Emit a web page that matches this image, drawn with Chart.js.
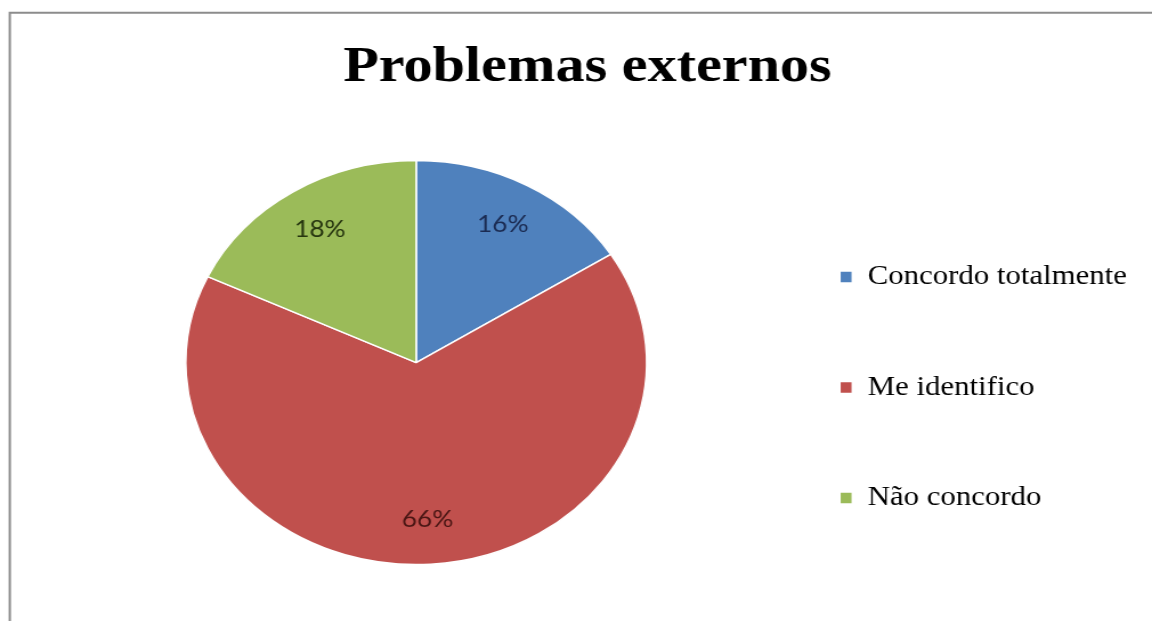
<!DOCTYPE html>
<html>
<head>
<meta charset="utf-8">
<script src="https://cdn.jsdelivr.net/npm/chart.js@4"></script>
<style>
    html, body { margin: 0; padding: 0; background: #fff; }
</style>
</head>
<body>
<!-- the original picture is stretched sideways, so the canvas is too -->
<canvas id="chart" width="1010" height="621" style="display:block;width:1152px;height:621px"></canvas>
<script>
const chartTitle = "Problemas externos";
const categories = ["Concordo totalmente", "Me identifico", "Não concordo"];
const percentages = [16, 66, 18];

const sliceColors = ["#4f81bd", "#c0504d", "#9bbb59"];
const labelColors = ["#1b2b52", "#4a1614", "#26350f"];

// white page with the grey frame on the left and top
const frame = {
    id: 'frame',
    beforeDraw(chart) {
        const ctx = chart.ctx;
        ctx.save();
        ctx.fillStyle = '#fff';
        ctx.fillRect(0, 0, chart.width, chart.height);
        ctx.strokeStyle = '#8c8c8c';
        ctx.lineWidth = 2;
        ctx.beginPath();
        ctx.moveTo(8.6, chart.height);
        ctx.lineTo(8.6, 12.8);
        ctx.lineTo(chart.width, 12.8);
        ctx.stroke();
        ctx.restore();
    }
};

// percentage labels inside the slices
const pctLabels = {
    id: 'pctLabels',
    afterDatasetsDraw(chart) {
        const ctx = chart.ctx;
        const meta = chart.getDatasetMeta(0);
        meta.data.forEach((arc, i) => {
            const p = arc.getProps(['x', 'y', 'startAngle', 'endAngle', 'outerRadius'], true);
            const mid = (p.startAngle + p.endAngle) / 2;
            const r = p.outerRadius * 0.78;
            ctx.save();
            ctx.fillStyle = labelColors[i];
            ctx.font = '23px Lato, "Open Sans", sans-serif';
            ctx.textAlign = 'center';
            ctx.textBaseline = 'middle';
            ctx.fillText(percentages[i] + '%', p.x + Math.cos(mid) * r, p.y + Math.sin(mid) * r);
            ctx.restore();
        });
    }
};

const ctx = document.getElementById('chart');

new Chart(ctx, {
    type: 'pie',
    data: {
        labels: categories,
        datasets: [{
            data: percentages,
            backgroundColor: sliceColors,
            borderColor: '#ffffff',
            borderWidth: 1.5,
            radius: 202,
        }],
    },
    options: {
        responsive: false,
        devicePixelRatio: 1,
        animation: false,
        layout: {
            padding: { left: 32, right: 12, top: 10, bottom: 10 },
        },
        plugins: {
            title: {
                display: true,
                text: chartTitle,
                color: '#000',
                font: { family: '"Liberation Serif", "Times New Roman", serif', size: 51, weight: 'bold' },
                padding: { top: 27, bottom: 16 },
            },
            // empty spacer on the left so the pie sits off centre like the original
            subtitle: {
                display: true,
                position: 'left',
                text: ' ',
                font: { size: 10 },
                padding: { top: 0, bottom: 33 },
            },
            legend: {
                position: 'right',
                align: 'start',
                maxWidth: 380,
                title: {
                    display: true,
                    text: ' ',
                    font: { size: 10 },
                    padding: { top: 0, bottom: 158 },
                },
                labels: {
                    color: '#000',
                    font: { family: '"Liberation Serif", "Times New Roman", serif', size: 27 },
                    boxWidth: 11,
                    boxHeight: 12,
                    padding: 83.5,
                },
            },
            tooltip: { enabled: false },
        },
    },
    plugins: [frame, pctLabels],
});
</script>
</body>
</html>
